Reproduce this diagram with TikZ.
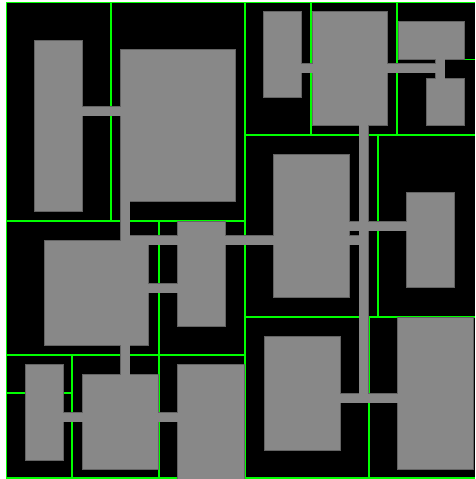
\documentclass[tikz,border=0pt]{standalone}
\pgfdeclarelayer{background}
\pgfsetlayers{background,main}
\definecolor{roomGray}{RGB}{136,136,136}
\definecolor{roomEdge}{RGB}{100,100,100}
\definecolor{splitGreen}{RGB}{0,255,0}
\begin{document}
\begin{tikzpicture}[x=1pt,y=-1pt]
  \tikzstyle{room}=[rectangle,fill=roomGray,draw=roomEdge,line width=0.6pt,inner sep=0pt,outer sep=0pt]
  \tikzstyle{split}=[draw=splitGreen,line width=1.8pt]
  \tikzstyle{corridorEdge}=[draw=roomEdge,line width=10.2pt]
  \tikzstyle{corridor}=[draw=roomGray,line width=9pt,shorten <=-0.6pt,shorten >=-0.6pt]

  \useasboundingbox (0,0) rectangle (475,479);

  % rooms
  \node[room,minimum width=47.7pt,minimum height=171.3pt](roomA) at (58.15,125.65) {};
  \node[room,minimum width=114.7pt,minimum height=152.4pt](roomB) at (177.65,125.5) {};
  \node[room,minimum width=47.6pt,minimum height=104.3pt](roomC) at (201.5,273.85) {};
  \node[room,minimum width=38pt,minimum height=85.3pt](roomD) at (282.7,54.35) {};
  \node[room,minimum width=75.3pt,minimum height=113.6pt](roomE) at (349.65,68.5) {};
  \node[room,minimum width=65.6pt,minimum height=38.3pt](roomF) at (431.2,40.15) {};
  \node[room,minimum width=38pt,minimum height=47pt](roomG) at (445,101.8) {};
  \node[room,minimum width=76pt,minimum height=143pt](roomH) at (311.3,225.8) {};
  \node[room,minimum width=47.6pt,minimum height=95pt](roomI) at (430.5,240.2) {};
  \node[room,minimum width=104.7pt,minimum height=105pt](roomJ) at (96.35,292.5) {};
  \node[room,minimum width=38pt,minimum height=95.3pt](roomK) at (44,412.35) {};
  \node[room,minimum width=76pt,minimum height=95pt](roomL) at (120.3,421.8) {};
  \node[room,minimum width=66.6pt,minimum height=114.3pt](roomM) at (211,421.85) {};
  \node[room,minimum width=76pt,minimum height=114.3pt](roomN) at (302,393.15) {};
  \node[room,minimum width=76.4pt,minimum height=152pt](roomO) at (435.5,393.3) {};

  % corridor ends
  \coordinate (doorAB) at (roomA.east |- 0,111.3);
  \coordinate (doorBA) at (roomB.west |- 0,111.3);
  \coordinate (doorBL) at (roomB.south -| 125,0);
  \coordinate (doorLB) at (roomL.north -| 125,0);
  \coordinate (hallW) at (125,240.3);
  \coordinate (hallE) at (363.8,240.3);
  \coordinate (doorEN) at (roomE.south -| 363.8,0);
  \coordinate (hallS) at (363.8,398);
  \coordinate (doorHI) at (roomH.east |- 0,226.2);
  \coordinate (doorIH) at (roomI.west |- 0,226.2);
  \coordinate (doorDE) at (roomD.east |- 0,68.3);
  \coordinate (doorED) at (roomE.west |- 0,68.3);
  \coordinate (doorEG) at (roomE.east |- 0,68.3);
  \coordinate (hallG) at (440.3,68.3);
  \coordinate (doorFG) at (roomF.south -| 440.3,0);
  \coordinate (doorGF) at (roomG.north -| 440.3,0);
  \coordinate (doorJC) at (roomJ.east |- 0,288);
  \coordinate (doorCJ) at (roomC.west |- 0,288);
  \coordinate (doorKL) at (roomK.east |- 0,417);
  \coordinate (doorLK) at (roomL.west |- 0,417);
  \coordinate (doorLM) at (roomL.east |- 0,417);
  \coordinate (doorML) at (roomM.west |- 0,417);
  \coordinate (doorNO) at (roomN.east |- 0,398);
  \coordinate (doorON) at (roomO.west |- 0,398);
  \def\corridorList{doorAB/doorBA, doorBL/doorLB, hallW/hallE, doorEN/hallS,
    doorHI/doorIH, doorDE/doorED, doorEG/hallG, doorFG/doorGF,
    doorJC/doorCJ, doorKL/doorLK, doorLM/doorML, doorNO/doorON}

  \begin{pgfonlayer}{background}
    \fill[black] (6.5,2.4) rectangle (475,478.3);
    % partition lines
    \draw[split] (475,2.4) -- (6.5,2.4) -- (6.5,478.3) -- (475,478.3);
    \draw[split] (244.7,2.4) -- (244.7,478.3);
    \draw[split] (6.5,220.9) -- (244.7,220.9);
    \draw[split] (110.7,2.4) -- (110.7,220.9);
    \draw[split] (6.5,354.7) -- (244.7,354.7);
    \draw[split] (159,220.9) -- (159,478.3);
    \draw[split] (72.3,354.7) -- (72.3,478.3);
    \draw[split] (6.5,393.2) -- (72.3,393.2);
    \draw[split] (244.7,134.8) -- (475,134.8);
    \draw[split] (311.3,2.4) -- (311.3,134.8);
    \draw[split] (397.2,2.4) -- (397.2,134.8);
    \draw[split] (397.2,59.5) -- (475,59.5);
    \draw[split] (378.2,134.8) -- (378.2,316.6);
    \draw[split] (244.7,316.6) -- (475,316.6);
    \draw[split] (369,316.6) -- (369,478.3);
    \foreach \p/\q in \corridorList {\draw[corridorEdge] (\p) -- (\q);}
  \end{pgfonlayer}

  \foreach \p/\q in \corridorList {\draw[corridor] (\p) -- (\q);}
\end{tikzpicture}
\end{document}
